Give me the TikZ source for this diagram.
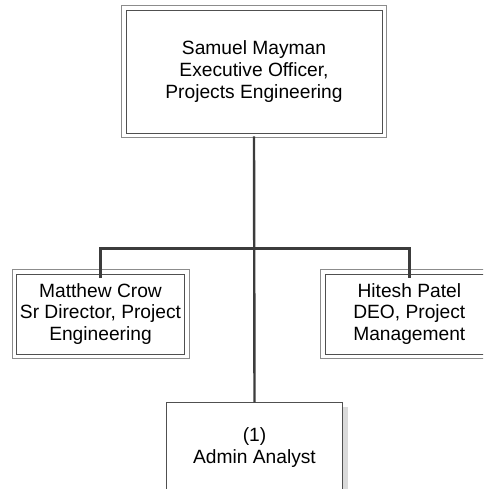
\documentclass[tikz,border=0pt]{standalone}
\usepackage{fontspec}
\setmainfont{Liberation Sans}
\usetikzlibrary{shadows}
\definecolor{inframe}{HTML}{505050}
\definecolor{outframe}{HTML}{8C8C8C}
\definecolor{linkc}{HTML}{3C3C3C}
\definecolor{shadowc}{HTML}{DADADA}
\begin{document}
\begin{tikzpicture}[x=1pt,y=1pt,
  every node/.style={font=\fontsize{19.2}{21.8}\selectfont, align=center, inner sep=0pt},
  dbox/.style={draw=inframe, line width=0.9pt, fill=white},
  frame/.style={draw=outframe, line width=0.9pt},
  single/.style={draw=inframe, line width=0.9pt, fill=white,
    drop shadow={shadow xshift=5.5pt, shadow yshift=-4.5pt, fill=shadowc, opacity=1}},
  link/.style={draw=linkc, line width=2.4pt}]
\useasboundingbox (0,0) rectangle (483,-489);
\clip (0,0) rectangle (483,-489);
\fill[white] (0,0) rectangle (483,-489);
% top box
\node[dbox, minimum width=256pt, minimum height=123pt] (top) at (254,-71.5)
  {Samuel Mayman\\Executive Officer,\\Projects Engineering};
\draw[frame] ([shift={(-4.2pt,4.2pt)}]top.north west) rectangle ([shift={(4.2pt,-4.2pt)}]top.south east);
% left box
\node[dbox, minimum width=167.6pt, minimum height=80pt] (left) at (100.5,-314)
  {Matthew Crow\\Sr Director, Project\\Engineering};
\draw[frame] ([shift={(-4.2pt,4.2pt)}]left.north west) rectangle ([shift={(4.2pt,-4.2pt)}]left.south east);
% right box
\node[dbox, minimum width=167.6pt, minimum height=80pt] (right) at (409.3,-314)
  {Hitesh Patel\\DEO, Project\\Management};
\draw[frame] ([shift={(-4.2pt,4.2pt)}]right.north west) rectangle ([shift={(4.2pt,-4.2pt)}]right.south east);
% bottom box
\node[single, anchor=north, minimum width=176.7pt, minimum height=89.4pt] (admin) at (254.5,-402.3)
  {(1)\\Admin Analyst};
% connectors
\coordinate (bus) at (254.7,-248.3);
\draw[link] ([yshift=-3pt]top.south) -- (admin.north);
\draw[link] ([yshift=-4.5pt]left.north) |- (bus) -| ([yshift=-4.5pt]right.north);
\end{tikzpicture}
\end{document}
